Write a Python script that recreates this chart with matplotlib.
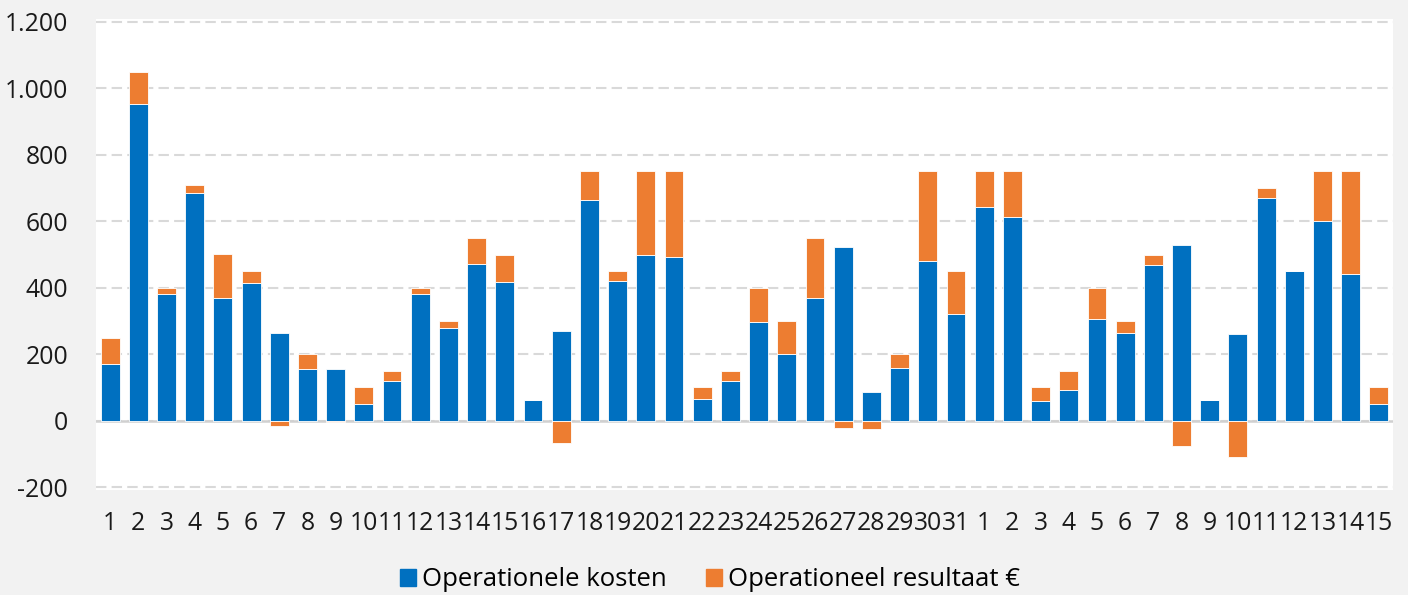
import matplotlib.pyplot as plt
from matplotlib.patches import Patch
from matplotlib.ticker import FuncFormatter
import numpy as np

days = [str(d) for d in range(1, 32)] + [str(d) for d in range(1, 16)]
kosten = [170, 953, 382, 685, 370, 415, 265, 155, 156, 49, 119, 382, 279, 472, 418, 63,
          269, 665, 420, 500, 491, 66, 118, 298, 200, 370, 523, 86, 158, 480, 322,
          644, 614, 58, 92, 306, 264, 468, 529, 62, 260, 669, 451, 600, 440, 49]
resultaat = [80, 97, 18, 25, 130, 35, -15, 45, -5, 51, 31, 18, 21, 78, 82, 0,
             -69, 85, 30, 250, 259, 34, 32, 102, 100, 180, -22, -26, 42, 270, 128,
             106, 136, 42, 58, 94, 36, 32, -78, 0, -110, 31, 0, 150, 310, 51]

blue = '#0070C0'
orange = '#ED7D31'

plt.rcParams['font.family'] = ['Open Sans', 'DejaVu Sans']

fig = plt.figure(figsize=(14.08, 5.95), dpi=100, facecolor='#F2F2F2')
ax = fig.add_axes([96 / 1408, 1 - 490 / 595, (1393 - 96) / 1408, (490 - 19) / 595])
ax.set_facecolor('white')

x = np.arange(len(days))
res = np.array(resultaat)
bottoms = np.where(res >= 0, np.array(kosten), 0)
ax.bar(x, kosten, width=0.67, color=blue, edgecolor='white', linewidth=0.6, zorder=3)
ax.bar(x, res, width=0.67, bottom=bottoms, color=orange, edgecolor='white', linewidth=0.6, zorder=3)

ax.set_xlim(-0.5, len(days) - 0.5)
ax.set_ylim(-209, 1209)
ax.set_yticks(range(-200, 1201, 200))
ax.yaxis.set_major_formatter(FuncFormatter(lambda v, p: f'{int(v):,}'.replace(',', '.')))
ax.set_xticks(x)
ax.set_xticklabels(days)
ax.tick_params(axis='both', length=0, labelsize=17.8, colors='#1a1a1a')
ax.tick_params(axis='x', pad=15)
ax.tick_params(axis='y', pad=20)
for s in ax.spines.values():
    s.set_visible(False)
ax.grid(axis='y', color='#D9D9D9', linestyle=(0, (5, 2.5)), linewidth=1.5, zorder=0)
ax.axhline(0, color='#D0D0D0', linewidth=1.8, zorder=2)

handles = [Patch(color=blue, label='Operationele kosten'),
           Patch(color=orange, label='Operationeel resultaat €')]
fig.legend(handles=handles, loc='center', bbox_to_anchor=(710 / 1408, 1 - 580 / 595), ncol=2,
           frameon=False, fontsize=18.5, handlelength=0.62, handleheight=0.62, handletextpad=0.23,
           columnspacing=1.55)

fig.savefig('out.png', dpi=100, facecolor=fig.get_facecolor())
